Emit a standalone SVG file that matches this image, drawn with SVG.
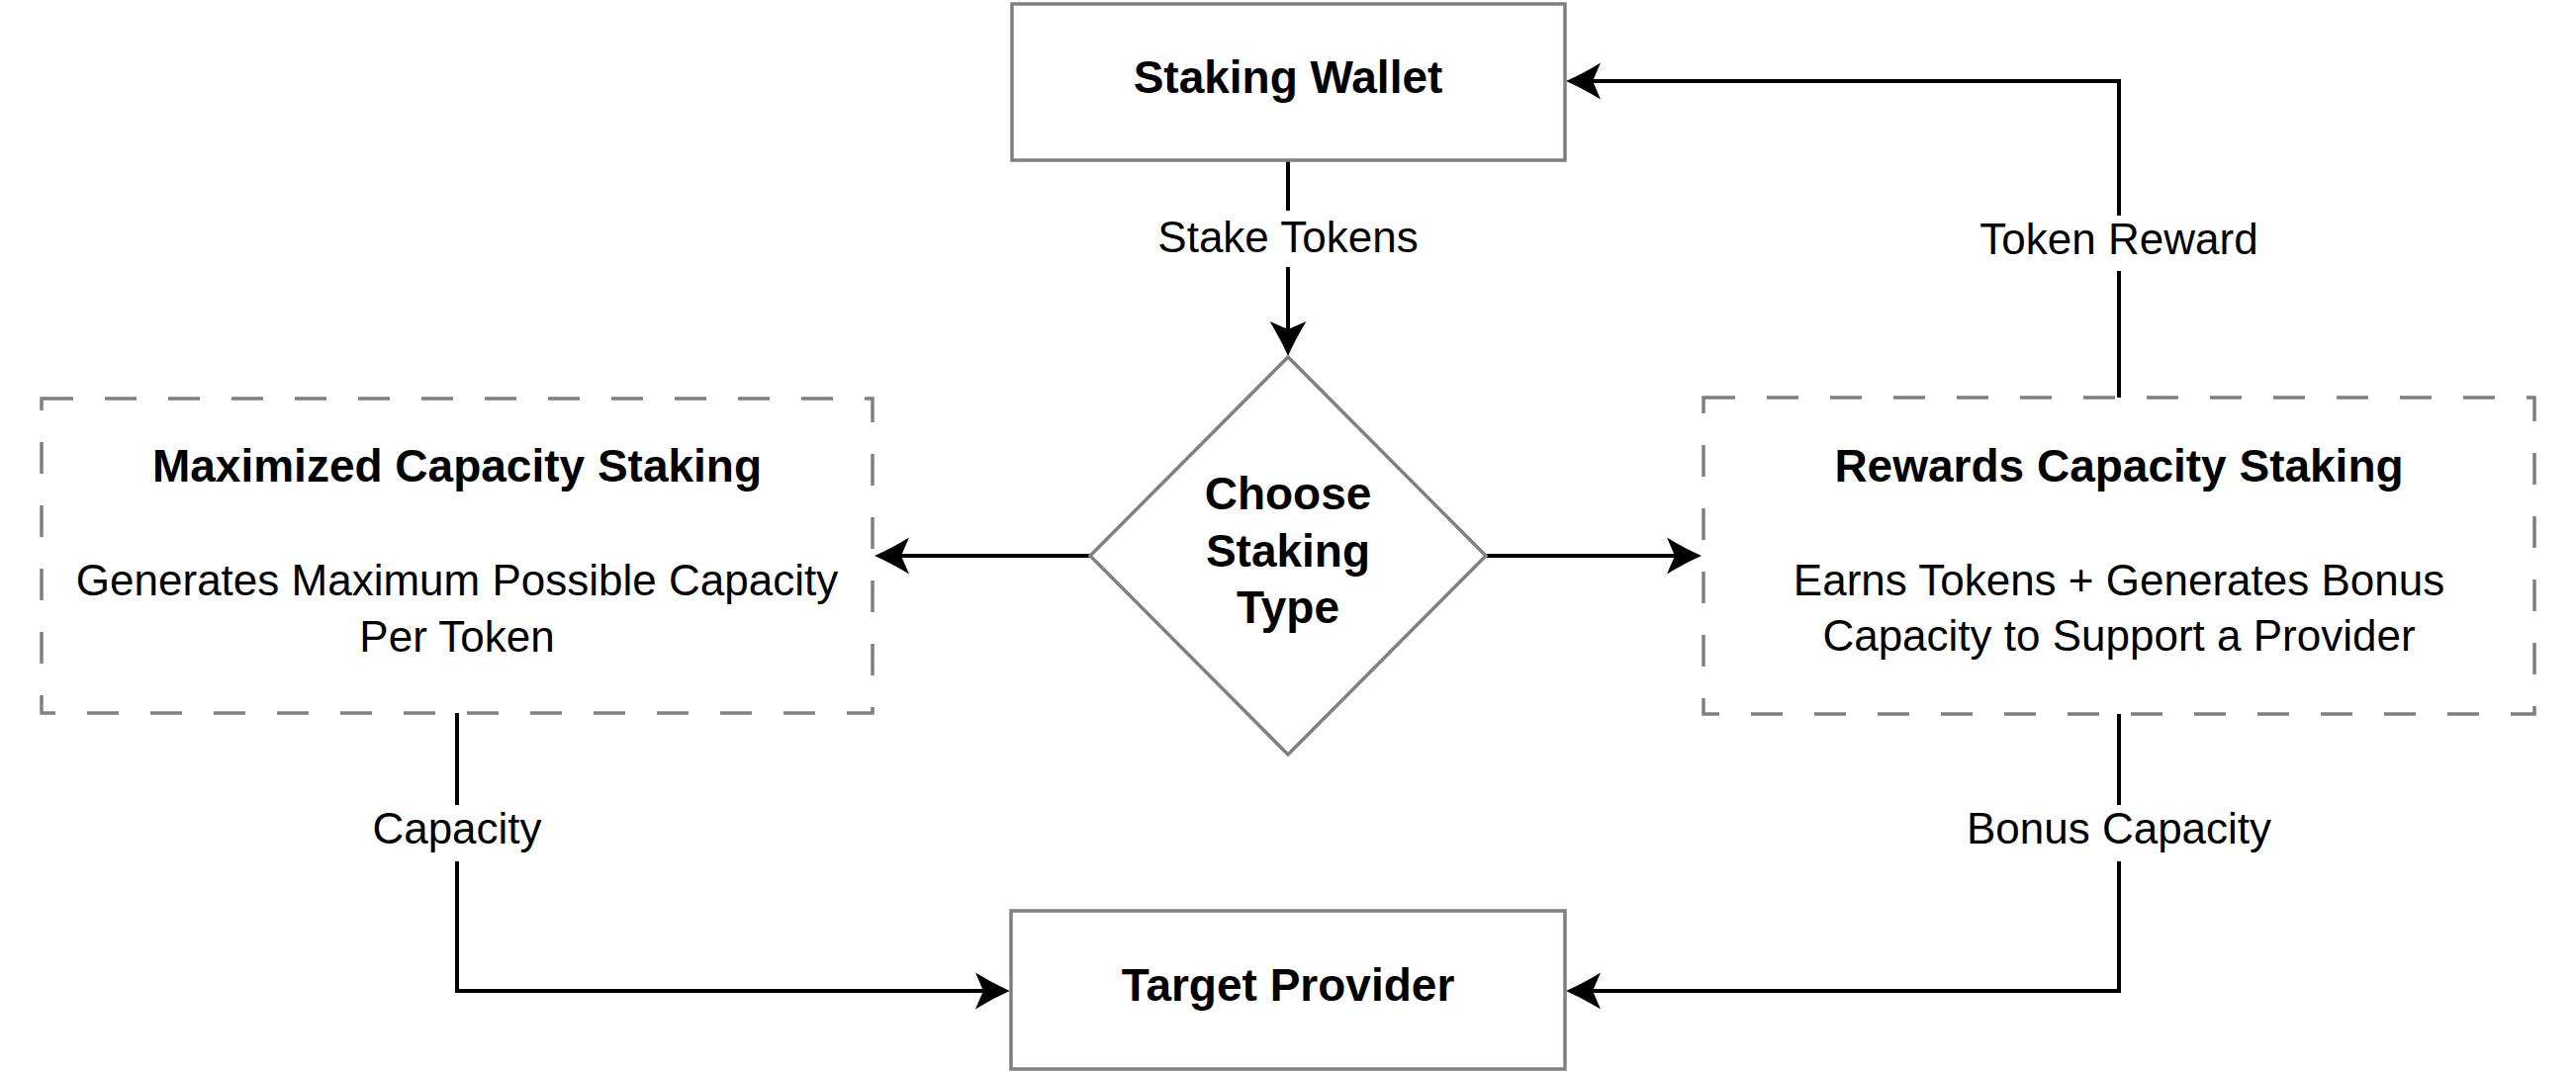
<svg xmlns="http://www.w3.org/2000/svg" width="2604" height="1084" viewBox="0 0 2604 1084">
  <style>
    .box { fill: #ffffff; stroke: #808080; stroke-width: 3.5; }
    .dash { fill: #ffffff; stroke: #808080; stroke-width: 3.5; stroke-dasharray: 32 32; }
    .conn { fill: none; stroke: #000000; stroke-width: 4; }
    .t { font-family: "Liberation Sans", Arial, sans-serif; fill: #000000; text-anchor: middle; }
    .b { font-weight: bold; font-size: 46px; }
    .r { font-size: 44px; }
    .bg { fill: #ffffff; stroke: none; }
  </style>
  <defs>
    <marker id="arrow" markerUnits="userSpaceOnUse" markerWidth="40" markerHeight="40" refX="20" refY="0" orient="auto" overflow="visible" viewBox="0 -20 40 40">
      <path d="M 0 -18.5 Q 18 -7.5 35 0 Q 18 7.5 0 18.5 L 8 0 Z" fill="#000000"/>
    </marker>
  </defs>
  <rect width="2604" height="1084" fill="#ffffff"/>

  <g id="connectors">
    <path class="conn" d="M 1302 162 L 1302 345" marker-end="url(#arrow)"/>
    <path class="conn" d="M 1102 562 L 899 562" marker-end="url(#arrow)"/>
    <path class="conn" d="M 1502 562 L 1705 562" marker-end="url(#arrow)"/>
    <path class="conn" d="M 2142 402 L 2142 82 L 1598 82" marker-end="url(#arrow)"/>
    <path class="conn" d="M 462 721 L 462 1002 L 1006 1002" marker-end="url(#arrow)"/>
    <path class="conn" d="M 2142 722 L 2142 1002 L 1598 1002" marker-end="url(#arrow)"/>
    <g id="label-stake-tokens">
      <rect class="bg" x="1160" y="213" width="284" height="57"/>
      <text class="t r" x="1302" y="255">Stake Tokens</text>
    </g>
    <g id="label-token-reward">
      <rect class="bg" x="1990" y="218" width="304" height="56"/>
      <text class="t r" x="2142" y="257">Token Reward</text>
    </g>
    <g id="label-capacity">
      <rect class="bg" x="370" y="814" width="184" height="57"/>
      <text class="t r" x="462" y="853">Capacity</text>
    </g>
    <g id="label-bonus-capacity">
      <rect class="bg" x="1980" y="814" width="324" height="57"/>
      <text class="t r" x="2142" y="853">Bonus Capacity</text>
    </g>
  </g>

  <g id="staking-wallet">
    <rect class="box" x="1023" y="4" width="559" height="158"/>
    <text class="t b" x="1302" y="94">Staking Wallet</text>
  </g>

  <g id="choose-staking-type">
    <polygon class="box" points="1302,361 1502,562 1302,763 1102,562"/>
    <text class="t b" x="1302" y="515">Choose</text>
    <text class="t b" x="1302" y="573">Staking</text>
    <text class="t b" x="1302" y="630">Type</text>
  </g>

  <g id="maximized-capacity-staking">
    <rect class="dash" x="42" y="403" width="840" height="318"/>
    <text class="t b" x="462" y="487">Maximized Capacity Staking</text>
    <text class="t r" x="462" y="602">Generates Maximum Possible Capacity</text>
    <text class="t r" x="462" y="659">Per Token</text>
  </g>

  <g id="rewards-capacity-staking">
    <rect class="dash" x="1722" y="402" width="840" height="320"/>
    <text class="t b" x="2142" y="487">Rewards Capacity Staking</text>
    <text class="t r" x="2142" y="602">Earns Tokens + Generates Bonus</text>
    <text class="t r" x="2142" y="658">Capacity to Support a Provider</text>
  </g>

  <g id="target-provider">
    <rect class="box" x="1022" y="921" width="560" height="160"/>
    <text class="t b" x="1302" y="1012">Target Provider</text>
  </g>
</svg>
